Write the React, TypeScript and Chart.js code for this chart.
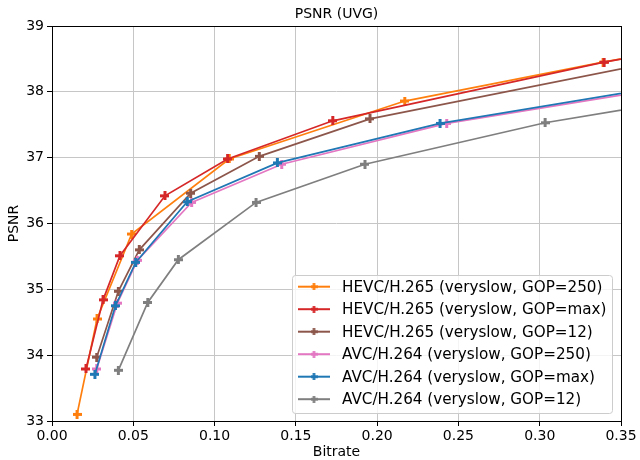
import React, { useEffect, useRef } from "react";
import { Chart, registerables } from "chart.js";

Chart.register(...registerables);

const seriesLabels = [
  "HEVC/H.265 (veryslow, GOP=250)",
  "HEVC/H.265 (veryslow, GOP=max)",
  "HEVC/H.265 (veryslow, GOP=12)",
  "AVC/H.264 (veryslow, GOP=250)",
  "AVC/H.264 (veryslow, GOP=max)",
  "AVC/H.264 (veryslow, GOP=12)",
];
const seriesColors = ["#ff7f0e", "#d62728", "#8c564b", "#e377c2", "#1f77b4", "#7f7f7f"];

const hevc250Bitrate = [0.0154, 0.0277, 0.049, 0.109, 0.217, 0.339, 0.45];
const hevc250Psnr = [33.1, 34.55, 35.84, 36.98, 37.86, 38.45, 38.95];
const hevcMaxBitrate = [0.0209, 0.0314, 0.0418, 0.0695, 0.108, 0.1727, 0.3396, 0.45];
const hevcMaxPsnr = [33.79, 34.84, 35.51, 36.42, 36.98, 37.56, 38.45, 38.95];
const hevc12Bitrate = [0.0275, 0.0408, 0.0537, 0.0853, 0.1275, 0.1956, 0.45];
const hevc12Psnr = [33.97, 34.97, 35.6, 36.46, 37.02, 37.59, 38.84];
const avc250Bitrate = [0.0275, 0.0402, 0.0525, 0.0859, 0.1413, 0.2428, 0.45];
const avc250Psnr = [33.79, 34.79, 35.44, 36.32, 36.9, 37.52, 38.35];
const avcMaxBitrate = [0.0264, 0.039, 0.0515, 0.0832, 0.1386, 0.2387, 0.45];
const avcMaxPsnr = [33.71, 34.75, 35.41, 36.33, 36.92, 37.52, 38.39];
const avc12Bitrate = [0.0408, 0.0589, 0.0777, 0.1255, 0.1925, 0.3033, 0.45];
const avc12Psnr = [33.77, 34.8, 35.45, 36.32, 36.9, 37.53, 38.13];

const seriesBitrates = [hevc250Bitrate, hevcMaxBitrate, hevc12Bitrate, avc250Bitrate, avcMaxBitrate, avc12Bitrate];
const seriesPsnr = [hevc250Psnr, hevcMaxPsnr, hevc12Psnr, avc250Psnr, avcMaxPsnr, avc12Psnr];

const xTicks = [0, 0.05, 0.1, 0.15, 0.2, 0.25, 0.3, 0.35];
const yTicks = [33, 34, 35, 36, 37, 38, 39];

const FONT = "'DejaVu Sans', sans-serif";

function makePlus(color: string, size = 9, arm = 3): HTMLCanvasElement {
  const c = document.createElement("canvas");
  c.width = size;
  c.height = size;
  const ctx = c.getContext("2d")!;
  ctx.fillStyle = color;
  const a = (size - arm) / 2;
  ctx.fillRect(a, 0, arm, size);
  ctx.fillRect(0, a, size, arm);
  return c;
}

export default function App() {
  const ref = useRef<HTMLCanvasElement>(null);
  useEffect(() => {
    const markers = seriesColors.map((c) => makePlus(c));
    const legendMarkers = seriesColors.map((c) => makePlus(c, 7, 2.6));
    const overlay = {
      id: "overlay",
      afterDatasetsDraw(chart: any) {
        const { ctx, chartArea } = chart;
        const { left, right, top, bottom } = chartArea;
        ctx.save();
        ctx.strokeStyle = "#000";
        ctx.lineWidth = 1;
        ctx.strokeRect(Math.round(left) + 0.5, Math.round(top) + 0.5, Math.round(right - left), Math.round(bottom - top));
        // titles
        ctx.fillStyle = "#000";
        ctx.font = `14px ${FONT}`;
        ctx.textAlign = "center";
        ctx.textBaseline = "middle";
        ctx.fillText("PSNR (UVG)", (left + right) / 2, 14);
        ctx.fillText("Bitrate", (left + right) / 2, 452);
        ctx.save();
        ctx.translate(14, (top + bottom) / 2);
        ctx.rotate(-Math.PI / 2);
        ctx.fillText("PSNR", 0, 0);
        ctx.restore();
        // legend
        const bx = 292.5, by = 275.5, bw = 320, bh = 138, r = 3;
        ctx.beginPath();
        ctx.moveTo(bx + r, by);
        ctx.lineTo(bx + bw - r, by);
        ctx.quadraticCurveTo(bx + bw, by, bx + bw, by + r);
        ctx.lineTo(bx + bw, by + bh - r);
        ctx.quadraticCurveTo(bx + bw, by + bh, bx + bw - r, by + bh);
        ctx.lineTo(bx + r, by + bh);
        ctx.quadraticCurveTo(bx, by + bh, bx, by + bh - r);
        ctx.lineTo(bx, by + r);
        ctx.quadraticCurveTo(bx, by, bx + r, by);
        ctx.closePath();
        ctx.fillStyle = "rgba(255,255,255,0.8)";
        ctx.fill();
        ctx.strokeStyle = "#cccccc";
        ctx.stroke();
        ctx.textAlign = "left";
        ctx.font = `15.2px ${FONT}`;
        seriesLabels.forEach((lab, i) => {
          const y = 286.7 + i * 22.5;
          ctx.strokeStyle = seriesColors[i];
          ctx.lineWidth = 2;
          ctx.beginPath();
          ctx.moveTo(298, y);
          ctx.lineTo(330, y);
          ctx.stroke();
          const m = legendMarkers[i];
          ctx.drawImage(m, 314 - m.width / 2, y - m.height / 2);
          ctx.fillStyle = "#000";
          ctx.fillText(lab, 342, y + 1);
        });
        ctx.restore();
      },
    };
    const chart = new Chart(ref.current!, {
      type: "line",
      data: {
        datasets: seriesLabels.map((label, i) => ({
          label,
          data: seriesBitrates[i].map((x, j) => ({ x, y: seriesPsnr[i][j] })),
          borderColor: seriesColors[i],
          backgroundColor: seriesColors[i],
          borderWidth: 1.7,
          pointStyle: markers[i] as any,
          pointRadius: 5,
          tension: 0,
          fill: false,
          order: 5 - i,
        })),
      },
      options: {
        responsive: false,
        animation: false,
        events: [],
        layout: { padding: { top: 26, right: 19, left: 0, bottom: 0 } },
        plugins: { legend: { display: false }, title: { display: false }, tooltip: { enabled: false } },
        scales: {
          x: {
            type: "linear",
            min: 0,
            max: 0.35,
            afterFit: (s: any) => { s.height = 39; },
            afterBuildTicks: (s: any) => { s.ticks = xTicks.map((v) => ({ value: v })); },
            ticks: {
              color: "#000",
              font: { family: FONT, size: 14 },
              padding: 2,
              maxRotation: 0,
              callback: (v: any) => Number(v).toFixed(2),
            },
            grid: { color: "#c6c6c6", lineWidth: 1, tickColor: "#000", tickLength: 5, drawTicks: true },
            border: { display: false },
          },
          y: {
            type: "linear",
            min: 33,
            max: 39,
            afterFit: (s: any) => { s.width = 52; },
            afterBuildTicks: (s: any) => { s.ticks = yTicks.map((v) => ({ value: v })); },
            ticks: {
              color: "#000",
              font: { family: FONT, size: 14 },
              padding: 3,
              callback: (v: any) => String(v),
            },
            grid: { color: "#c6c6c6", lineWidth: 1, tickColor: "#000", tickLength: 5, drawTicks: true },
            border: { display: false },
          },
        },
      },
      plugins: [overlay],
    });
    return () => chart.destroy();
  }, []);
  return (
    <canvas
      ref={ref}
      width={640}
      height={460}
      style={{ position: "fixed", left: 0, top: 0, width: 640, height: 460, background: "#fff" }}
    />
  );
}
